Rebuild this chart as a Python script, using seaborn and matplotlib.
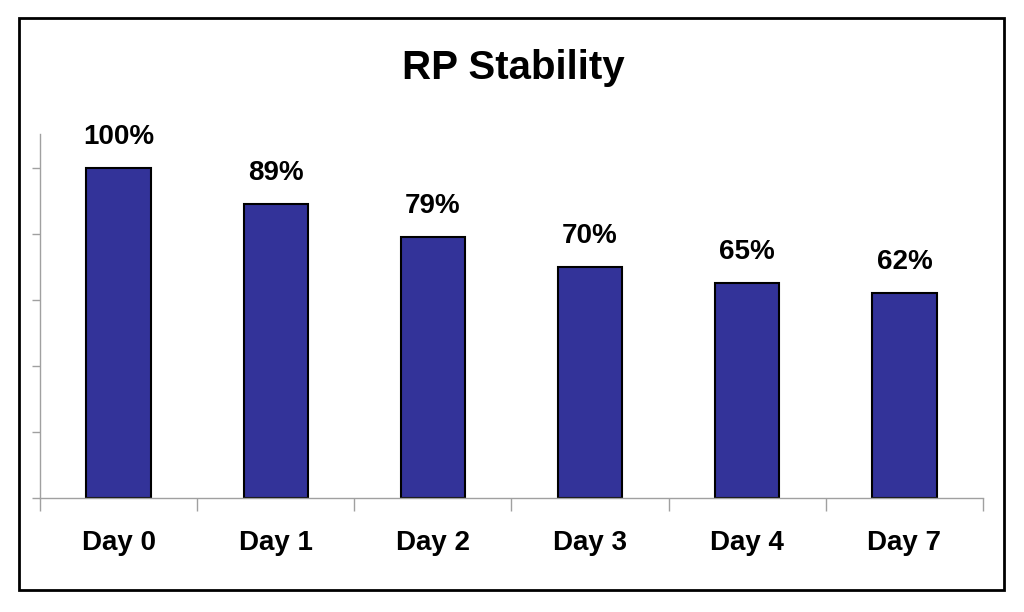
import matplotlib
matplotlib.use("Agg")
import matplotlib.pyplot as plt
import matplotlib.patches as mpatches
import seaborn as sns
import pandas as pd
import numpy as np

# Chart data
days = ["Day 0", "Day 1", "Day 2", "Day 3", "Day 4", "Day 7"]
stability = [1.00, 0.89, 0.79, 0.70, 0.65, 0.62]
value_labels = ["100%", "89%", "79%", "70%", "65%", "62%"]

df = pd.DataFrame({"day": days, "stability": stability})

sns.set_style("white")
plt.rcParams["font.family"] = ["Liberation Sans", "DejaVu Sans"]
plt.rcParams["text.color"] = "black"
plt.rcParams["xtick.color"] = "black"

fig = plt.figure(figsize=(10.24, 6.12), dpi=100)
ax = fig.add_axes([40 / 1024, 1 - 498 / 612, 943 / 1024, 364 / 612])

sns.barplot(data=df, x="day", y="stability", color="#333399", saturation=1,
            width=0.41, edgecolor="black", linewidth=1.5, ax=ax)

ax.set_ylim(0, 1.103)
ax.set_xlim(-0.5, len(days) - 0.5)

# y ticks, no labels
ax.set_yticks(np.arange(0, 1.01, 0.2))
ax.set_yticklabels([])
ax.tick_params(axis="y", direction="out", length=6, color="#a0a0a0", left=True, width=1)

# x ticks at category boundaries, labels at centers
ax.set_xticks(np.arange(-0.5, len(days), 1.0))
ax.set_xticklabels([])
ax.set_xticks(np.arange(len(days)), minor=True)
ax.set_xticklabels(days, minor=True, fontsize=20, fontweight="bold", color="black")
ax.tick_params(axis="x", which="major", direction="out", length=9, color="#a0a0a0", bottom=True, width=1)
ax.tick_params(axis="x", which="minor", length=0, pad=23)

for side in ["top", "right"]:
    ax.spines[side].set_visible(False)
for side in ["left", "bottom"]:
    ax.spines[side].set_color("#a0a0a0")
    ax.spines[side].set_linewidth(1)

ax.set_xlabel("")
ax.set_ylabel("")

# value labels above bars
for i, (v, lab) in enumerate(zip(stability, value_labels)):
    ax.annotate(lab, (i, v), xytext=(0, 13), textcoords="offset points",
                ha="center", va="bottom", fontsize=20, fontweight="bold", color="black")

fig.text(513 / 1024, 1 - 68 / 612, "RP Stability", ha="center", va="center",
         fontsize=29, fontweight="bold", color="black")

# outer frame
frame = mpatches.Rectangle((19 / 1024, 1 - 590 / 612), 985 / 1024, 572 / 612,
                           transform=fig.transFigure, fill=False,
                           edgecolor="black", linewidth=2)
fig.patches.append(frame)

fig.savefig("out.png", dpi=100, facecolor="white")
